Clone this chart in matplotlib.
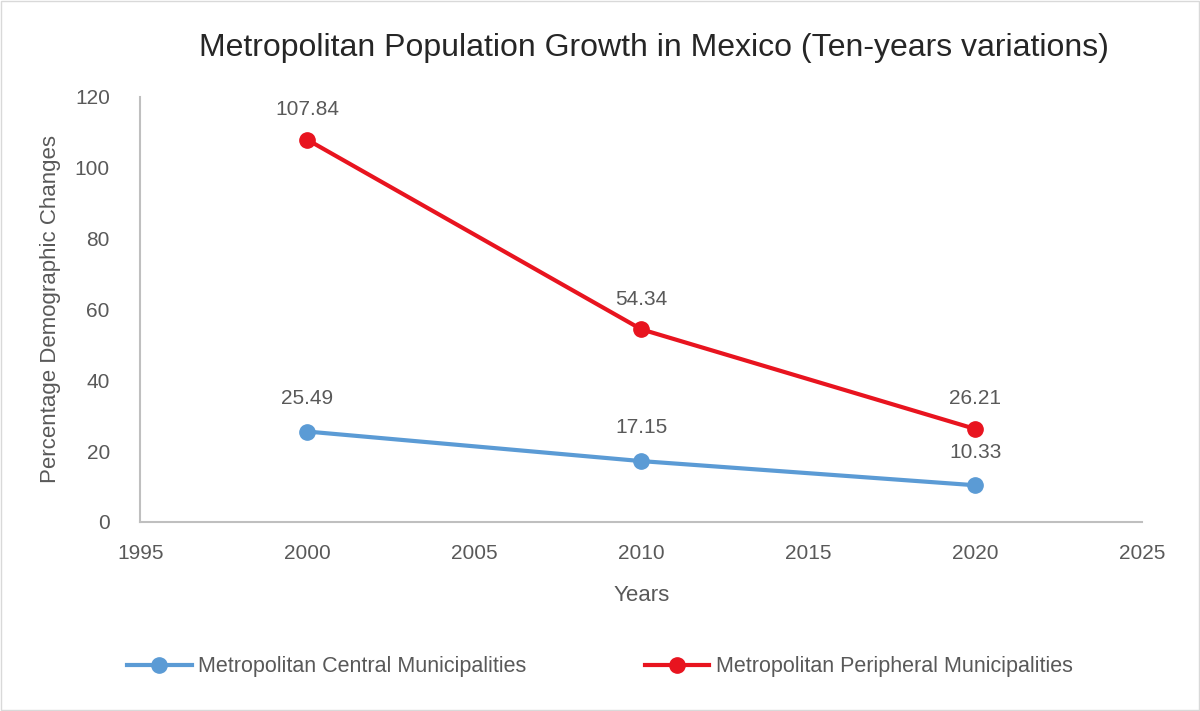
import matplotlib.pyplot as plt
from matplotlib.patches import Rectangle

years = [2000, 2010, 2020]
central = [25.49, 17.15, 10.33]
peripheral = [107.84, 54.34, 26.21]

plt.rcParams['font.family'] = ['Liberation Sans', 'DejaVu Sans']
grey = '#595959'

fig = plt.figure(figsize=(12, 7.11), dpi=100)
fig.patches.append(Rectangle((0.001, 0.001), 0.998, 0.997, transform=fig.transFigure,
                             fill=False, edgecolor='#d9d9d9', lw=1))
ax = fig.add_axes([0.117, 0.266, 0.835, 0.598])

ax.plot(years, central, '-o', color='#5B9BD5', lw=3, ms=11,
        label='Metropolitan Central Municipalities')
ax.plot(years, peripheral, '-o', color='#E8141F', lw=3, ms=11,
        label='Metropolitan Peripheral Municipalities')

for x, y in zip(years, central):
    ax.annotate(f'{y:.2f}', (x, y), xytext=(0, 17), textcoords='offset points',
                ha='center', va='bottom', fontsize=15, color=grey)
for x, y in zip(years, peripheral):
    ax.annotate(f'{y:.2f}', (x, y), xytext=(0, 15), textcoords='offset points',
                ha='center', va='bottom', fontsize=15, color=grey)

ax.set_xlim(1995, 2025)
ax.set_ylim(0, 120)
ax.set_xticks(range(1995, 2026, 5))
ax.set_yticks(range(0, 121, 20))
ax.tick_params(colors=grey, labelsize=15, length=0)
ax.tick_params(axis='x', pad=16)
ax.tick_params(axis='y', pad=22)
for s in ['top', 'right']:
    ax.spines[s].set_visible(False)
for s in ['left', 'bottom']:
    ax.spines[s].set_color('#bfbfbf')
    ax.spines[s].set_linewidth(1.5)

ax.set_xlabel('Years', fontsize=16, color=grey, labelpad=16)
ax.set_ylabel('Percentage Demographic Changes', fontsize=16, color=grey, labelpad=10)
fig.text(0.545, 0.933, 'Metropolitan Population Growth in Mexico (Ten-years variations)',
         ha='center', va='center', fontsize=23, color='#262626')

fig.legend(loc='center', bbox_to_anchor=(0.5, 0.062), ncol=2, frameon=False,
           fontsize=15.5, labelcolor=grey, handlelength=3, handletextpad=0.3,
           columnspacing=5.5)

fig.savefig('out.png', dpi=100)
